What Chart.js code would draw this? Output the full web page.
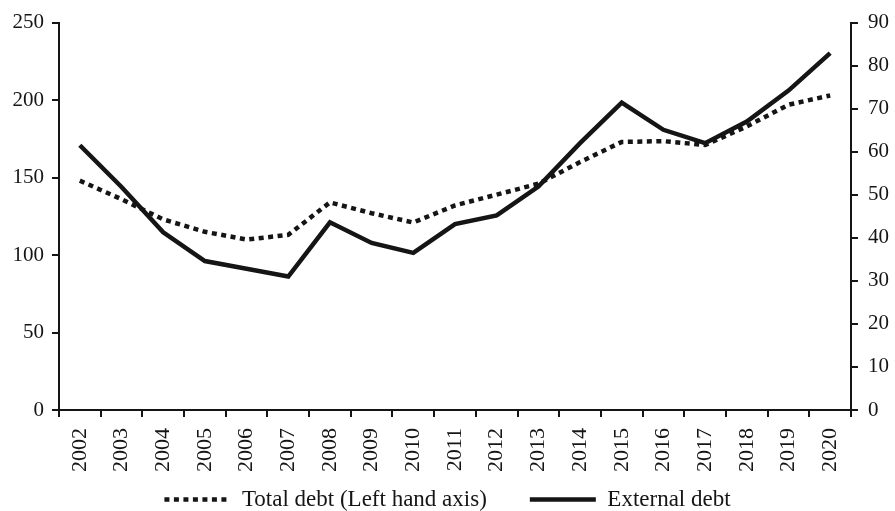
<!DOCTYPE html>
<html>
<head>
<meta charset="utf-8">
<script src="https://cdn.jsdelivr.net/npm/chart.js@4/dist/chart.umd.min.js"></script>
<style>
  html, body { margin: 0; padding: 0; background: #fff; }
  #wrap { width: 895px; height: 511px; }
</style>
</head>
<body>
<div id="wrap"><canvas id="c" width="895" height="511"></canvas></div>
<script>
const years = ['2002','2003','2004','2005','2006','2007','2008','2009','2010','2011','2012','2013','2014','2015','2016','2017','2018','2019','2020'];
const totalDebt = [148, 136, 123, 115, 110, 113, 134, 127, 121, 132, 139, 146, 160, 173, 173.5, 171, 183, 197, 203];
const externalDebt = [61.5, 51.8, 41.3, 34.6, 32.8, 31.0, 43.6, 38.8, 36.5, 43.2, 45.2, 51.9, 62.0, 71.4, 65.1, 62.0, 67.0, 74.2, 82.9];
const leftTicks = [0, 50, 100, 150, 200, 250];
const rightTicks = [0, 10, 20, 30, 40, 50, 60, 70, 80, 90];
const seriesNames = ['Total debt (Left hand axis)', 'External debt'];

const ink = '#151515';
const fontFam = '"Liberation Serif", "DejaVu Serif", serif';
const LEG_PAD = 43;   // horizontal gap between legend items
const LEG_TOP = 10;   // space above legend row

// keep the wide horizontal gap between legend items without the matching vertical gap
const legendGap = {
  id: 'legendGap',
  afterInit(chart) {
    const lg = chart.legend;
    if (!lg) return;
    const fit = lg.fit.bind(lg);
    lg.fit = function () { fit(); this.height = Math.max(this.height - LEG_PAD, 0); };
    const draw = lg.draw.bind(lg);
    lg.draw = function () {
      const t = this.top;
      this.top = t - (LEG_PAD - LEG_TOP);
      draw();
      this.top = t;
    };
  }
};

new Chart(document.getElementById('c'), {
  type: 'line',
  data: {
    labels: years,
    datasets: [
      {
        label: seriesNames[0],
        data: totalDebt,
        yAxisID: 'y',
        borderColor: ink,
        backgroundColor: ink,
        borderWidth: 4.5,
        borderDash: [5, 4.5],
        pointRadius: 0,
        tension: 0,
        fill: false
      },
      {
        label: seriesNames[1],
        data: externalDebt,
        yAxisID: 'y1',
        borderColor: ink,
        backgroundColor: ink,
        borderWidth: 4.5,
        pointRadius: 0,
        tension: 0,
        fill: false
      }
    ]
  },
  plugins: [legendGap],
  options: {
    responsive: false,
    animation: false,
    layout: { padding: { top: 20, left: 0, right: 0, bottom: 0 } },
    plugins: {
      tooltip: { enabled: false },
      legend: {
        position: 'bottom',
        labels: {
          usePointStyle: true,
          pointStyle: 'line',
          pointStyleWidth: 66,
          padding: LEG_PAD,
          color: ink,
          font: { family: fontFam, size: 23 },
          generateLabels(chart) {
            const items = Chart.defaults.plugins.legend.labels.generateLabels(chart);
            items.forEach(it => {
              const ds = chart.data.datasets[it.datasetIndex];
              it.pointStyle = 'line';
              it.lineDash = ds.borderDash || [];
              it.lineWidth = ds.borderWidth;
              it.strokeStyle = ds.borderColor;
              it.fillStyle = ds.borderColor;
              it.lineCap = 'butt';
            });
            return items;
          }
        }
      }
    },
    scales: {
      x: {
        offset: true,
        afterFit: s => { s.height = 68; },
        grid: { display: true, drawOnChartArea: false, offset: true, color: ink, lineWidth: 2, tickLength: 7 },
        border: { display: true, color: ink, width: 2 },
        ticks: { color: ink, minRotation: 90, maxRotation: 90, padding: 11, autoSkip: false, font: { family: fontFam, size: 22 } }
      },
      y: {
        position: 'left',
        min: 0,
        max: 250,
        afterFit: s => { s.width = 59; },
        afterBuildTicks: s => { s.ticks = leftTicks.map(v => ({ value: v })); },
        grid: { display: true, drawOnChartArea: false, color: ink, lineWidth: 2, tickLength: 7 },
        border: { display: true, color: ink, width: 2 },
        ticks: { color: ink, padding: 8, font: { family: fontFam, size: 21 } }
      },
      y1: {
        position: 'right',
        min: 0,
        max: 90,
        afterFit: s => { s.width = 44; },
        afterBuildTicks: s => { s.ticks = rightTicks.map(v => ({ value: v })); },
        grid: { display: true, drawOnChartArea: false, color: ink, lineWidth: 2, tickLength: 7 },
        border: { display: true, color: ink, width: 2 },
        ticks: { color: ink, padding: 10, font: { family: fontFam, size: 21 } }
      }
    }
  }
});
</script>
</body>
</html>
